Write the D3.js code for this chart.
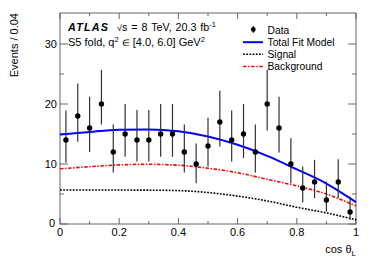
<!DOCTYPE html>
<html>
<head>
<meta charset="utf-8">
<script src="https://cdn.jsdelivr.net/npm/d3@7"></script>
<style>
  body { margin: 0; background: #fff; }
  text { font-family: "Liberation Sans", Arial, Helvetica, sans-serif; }
</style>
</head>
<body>
<div id="chart"></div>
<script>
// bin centres (width 0.04) and observed events
var binCentres = [0.02,0.06,0.10,0.14,0.18,0.22,0.26,0.30,0.34,0.38,0.42,0.46,0.50,
  0.54,0.58,0.62,0.66,0.70,0.74,0.78,0.82,0.86,0.90,0.94,0.98];
var counts = [14,18,16,20,12,15,14,14,15,15,12,10,13,17,14,15,12,20,16,10,6,7,4,7,2];
var errUp = [18.9,23.4,21.2,25.7,16.6,20,19,19,20,20,16.6,13.4,17.7,22.2,18.9,20,16.6,
  25.7,21.2,14.3,9.6,10.7,7.1,10.8,4.6];
var errDown = [10.2,13.7,12,16.6,8.6,11.2,10.4,10.4,11.2,11.2,8.6,6.8,9.6,12.9,10.4,11,
  8.6,15.6,11.9,6.8,3.6,4.3,2.1,4.3,0.7];

// fit curves
var curveX = [0,0.1,0.2,0.3,0.4,0.5,0.6,0.7,0.8,0.9,1.0];
var totalFit = [14.9,15.35,15.7,15.75,15.45,14.6,13.2,11.35,9.1,6.75,3.65];
var signalFit = [5.67,5.67,5.66,5.64,5.57,5.24,4.65,3.85,2.8,1.85,0.7];
var backgroundFit = [9.2,9.55,9.85,9.95,9.8,9.3,8.55,7.45,6.35,5.0,3.0];

var xTicks = [0,0.2,0.4,0.6,0.8,1];
var yTicks = [0,10,20,30];

var width = 374, height = 268;
var margin = {left: 60, right: 18, top: 13, bottom: 44};

var svg = d3.select("#chart").append("svg")
  .attr("width", width)
  .attr("height", height);

var x = d3.scaleLinear().domain([0, 1]).range([margin.left, width - margin.right]);
var y = d3.scaleLinear().domain([0, 35.17]).range([height - margin.bottom, margin.top]);

var axisCol = "#666";

// frame
svg.append("rect")
  .attr("x", x(0)).attr("y", y.range()[1])
  .attr("width", x(1) - x(0)).attr("height", y(0) - y.range()[1])
  .attr("fill", "none").attr("stroke", axisCol).attr("stroke-width", 1);

// ticks on all four sides
var xMinor = d3.range(0, 1.0001, 0.1);
xMinor.forEach(function (v) {
  var major = Math.abs(v * 5 - Math.round(v * 5)) < 1e-6;
  var len = major ? 6 : 3;
  svg.append("line").attr("x1", x(v)).attr("x2", x(v))
    .attr("y1", y(0)).attr("y2", y(0) - len).attr("stroke", axisCol);
  svg.append("line").attr("x1", x(v)).attr("x2", x(v))
    .attr("y1", margin.top).attr("y2", margin.top + len).attr("stroke", axisCol);
});
d3.range(0, 35, 5).forEach(function (v) {
  var len = (v % 10 === 0) ? 8 : 4;
  svg.append("line").attr("x1", x(0)).attr("x2", x(0) + len)
    .attr("y1", y(v)).attr("y2", y(v)).attr("stroke", axisCol);
  svg.append("line").attr("x1", x(1)).attr("x2", x(1) - len)
    .attr("y1", y(v)).attr("y2", y(v)).attr("stroke", axisCol);
});

// tick labels
svg.selectAll("text.xl").data(xTicks).enter().append("text")
  .attr("class", "xl")
  .attr("x", function (d) { return x(d); })
  .attr("y", y(0) + 12)
  .attr("text-anchor", "middle")
  .attr("font-size", 11)
  .text(function (d) { return d3.format("")(d); });
svg.selectAll("text.yl").data(yTicks).enter().append("text")
  .attr("class", "yl")
  .attr("x", function (d) { return d === 0 ? 55 : 57; })
  .attr("y", function (d) { return d === 0 ? y(d) - 0.5 : y(d); })
  .attr("dy", "0.35em")
  .attr("text-anchor", "end")
  .attr("font-size", 11)
  .text(function (d) { return d; });

// axis titles
var xt = svg.append("text")
  .attr("x", x(1)).attr("y", 253)
  .attr("text-anchor", "end")
  .attr("font-size", 11);
xt.append("tspan").text("cos θ");
xt.append("tspan").attr("font-size", 8).attr("dy", 2.5).text("L");

svg.append("text")
  .attr("transform", "translate(17.5," + margin.top + ") rotate(-90)")
  .attr("text-anchor", "end")
  .attr("font-size", 11)
  .text("Events / 0.04");

// fit curves
var pts = function (arr) {
  return curveX.map(function (v, i) { return [v, arr[i]]; });
};
var line = d3.line()
  .x(function (d) { return x(d[0]); })
  .y(function (d) { return y(d[1]); })
  .curve(d3.curveMonotoneX);

svg.append("path").attr("d", line(pts(signalFit)))
  .attr("fill", "none").attr("stroke", "#000").attr("stroke-width", 1.6)
  .attr("stroke-dasharray", "1.8,1.4");
svg.append("path").attr("d", line(pts(backgroundFit)))
  .attr("fill", "none").attr("stroke", "#ff0000").attr("stroke-width", 1.6)
  .attr("stroke-dasharray", "3.5,1.6,1.4,1.6");
svg.append("path").attr("d", line(pts(totalFit)))
  .attr("fill", "none").attr("stroke", "#0000ff").attr("stroke-width", 2);

// data points with error bars
var pt = svg.selectAll("g.pt")
  .data(binCentres.map(function (c, i) {
    return {x: c, v: counts[i], hi: errUp[i], lo: errDown[i]};
  }))
  .enter().append("g").attr("class", "pt");
pt.append("line")
  .attr("x1", function (d) { return x(d.x); })
  .attr("x2", function (d) { return x(d.x); })
  .attr("y1", function (d) { return y(d.hi); })
  .attr("y2", function (d) { return y(d.lo); })
  .attr("stroke", "#333").attr("stroke-width", 1.2);
pt.append("circle")
  .attr("cx", function (d) { return x(d.x); })
  .attr("cy", function (d) { return y(d.v); })
  .attr("r", 2.7)
  .attr("fill", "#000");

// legend
var legX = 267.5, legY = [33.5, 45.7, 57.8, 70];
svg.append("line").attr("x1", 253.3).attr("x2", 253.3)
  .attr("y1", legY[0] - 7.5).attr("y2", legY[0] - 0.5)
  .attr("stroke", "#333").attr("stroke-width", 1.2);
svg.append("circle").attr("cx", 253.3).attr("cy", legY[0] - 4).attr("r", 2.4).attr("fill", "#000");
svg.append("line").attr("x1", 243).attr("x2", 263).attr("y1", legY[1] - 3.5).attr("y2", legY[1] - 3.5)
  .attr("stroke", "#0000ff").attr("stroke-width", 2);
svg.append("line").attr("x1", 243).attr("x2", 263).attr("y1", legY[2] - 3.5).attr("y2", legY[2] - 3.5)
  .attr("stroke", "#000").attr("stroke-width", 1.6).attr("stroke-dasharray", "1.8,1.4");
svg.append("line").attr("x1", 243).attr("x2", 263).attr("y1", legY[3] - 3.5).attr("y2", legY[3] - 3.5)
  .attr("stroke", "#ff0000").attr("stroke-width", 1.6).attr("stroke-dasharray", "3.5,1.6,1.4,1.6");
var legNames = ["Data", "Total Fit Model", "Signal", "Background"];
svg.selectAll("text.leg").data(legNames).enter().append("text")
  .attr("class", "leg")
  .attr("x", legX)
  .attr("y", function (d, i) { return legY[i]; })
  .attr("font-size", 10.3)
  .text(function (d) { return d; });

// ATLAS label
svg.append("text").attr("x", 68).attr("y", 31).attr("font-size", 10.8)
  .attr("font-weight", "bold").attr("font-style", "italic")
  .attr("letter-spacing", 1.2)
  .text("ATLAS");
var t1 = svg.append("text").attr("x", 117).attr("y", 31).attr("font-size", 10.7);
t1.append("tspan").attr("font-size", 9).text("√");
t1.append("tspan").text("s = 8 TeV, 20.3 fb").attr("word-spacing", 1);
t1.append("tspan").attr("font-size", 7.5).attr("dy", -4.5).text("-1");
var t2 = svg.append("text").attr("x", 68).attr("y", 46).attr("font-size", 11);
t2.append("tspan").text("S5 fold, q");
t2.append("tspan").attr("font-size", 7.5).attr("dy", -4.5).text("2");
t2.append("tspan").attr("dy", 4.5).text(" ");
t2.append("tspan").attr("font-size", 9).text("∈");
t2.append("tspan").text(" [4.0, 6.0] GeV");
t2.append("tspan").attr("font-size", 7.5).attr("dy", -4.5).text("2");
</script>
</body>
</html>
